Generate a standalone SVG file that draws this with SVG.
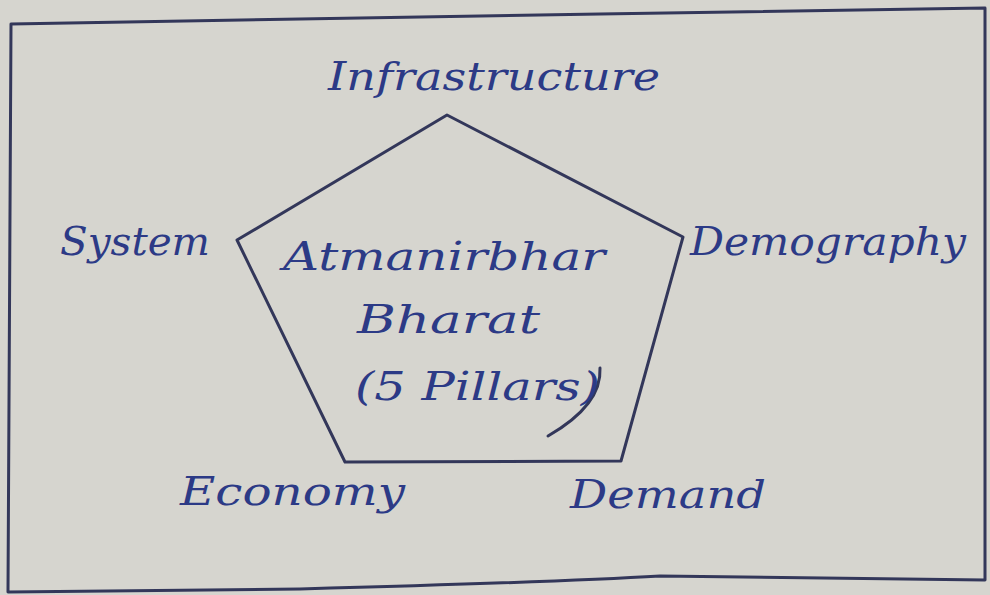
<svg xmlns="http://www.w3.org/2000/svg" width="990" height="595" viewBox="0 0 990 595">
<style>
.ink{font-family:"DejaVu Serif","Liberation Serif",serif;font-style:italic;fill:#2c3a86}
.lbl{font-size:40px}
.ctr{font-size:40px}
.edge{fill:none;stroke:#33375a;stroke-width:3;stroke-linejoin:round;stroke-linecap:round}
</style>
<rect width="990" height="595" fill="#d6d5cf"/>
<g id="frame">
<path class="edge" d="M11,24 L300,19 L600,14 L985,8 M11,24 L8,592 L300,589 Q560,582 660,576 L985,580 L985,8"/>
</g>
<g id="connectors">
<polygon id="pentagon" class="edge" points="447,115 683,237 621,461 345,462 237,240"/>
<path class="edge" d="M600,368 Q602,405 548,436" stroke="#2c3a86"/>
</g>
<g id="center">
<text class="ink ctr" x="283" y="270" textLength="322" lengthAdjust="spacingAndGlyphs">Atmanirbhar</text>
<text class="ink ctr" x="357" y="333" textLength="183" lengthAdjust="spacingAndGlyphs">Bharat</text>
<text class="ink ctr" x="355" y="400" textLength="245" lengthAdjust="spacingAndGlyphs">(5 Pillars)</text>
</g>
<g id="infrastructure"><text class="ink lbl" x="328" y="90" textLength="332" lengthAdjust="spacingAndGlyphs">Infrastructure</text></g>
<g id="system"><text class="ink lbl" x="60" y="255" textLength="150" lengthAdjust="spacingAndGlyphs">System</text></g>
<g id="demography"><text class="ink lbl" x="690" y="255" textLength="276" lengthAdjust="spacingAndGlyphs">Demography</text></g>
<g id="economy"><text class="ink lbl" x="180" y="505" textLength="225" lengthAdjust="spacingAndGlyphs">Economy</text></g>
<g id="demand"><text class="ink lbl" x="570" y="508" textLength="196" lengthAdjust="spacingAndGlyphs">Demand</text></g>
</svg>
